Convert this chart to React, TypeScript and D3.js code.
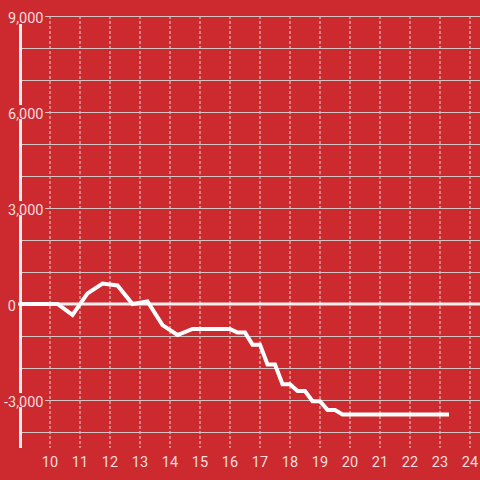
import React from "react";
import * as d3 from "d3";

const W = 480;
const H = 480;
const BG = "#cc2a2f";

const hours = [9, 10.25, 10.75, 11.25, 11.75, 12.25, 12.75, 13.25, 13.75, 14.25, 14.75, 16.0, 16.25, 16.5, 16.75, 17.0, 17.25, 17.5, 17.75, 18.0, 18.25, 18.5, 18.75, 19.0, 19.25, 19.5, 19.75, 23.3];
const values = [0, 0, -340, 330, 640, 580, 0, 80, -660, -970, -780, -780, -890, -890, -1270, -1270, -1890, -1890, -2510, -2510, -2720, -2720, -3040, -3040, -3310, -3310, -3450, -3450];
const xTicks = [10, 11, 12, 13, 14, 15, 16, 17, 18, 19, 20, 21, 22, 23, 24];
const yLabelTicks = [9000, 6000, 3000, 0, -3000];
const yGridTicks = [9000, 8000, 7000, 6000, 5000, 4000, 3000, 2000, 1000, -1000, -2000, -3000, -4000];

export default function App() {
  const x = d3.scaleLinear().domain([9, 24.3333]).range([20, 480]);
  const y = d3.scaleLinear().domain([-4500, 9000]).range([448, 16]);
  const fmt = d3.formatLocale({ decimal: ".", thousands: ",", grouping: [3], currency: ["", ""], minus: "-" }).format(",");
  const data = hours.map((h, i) => [h, values[i]] as [number, number]);
  const line = d3
    .line<[number, number]>()
    .x((d) => x(d[0]))
    .y((d) => y(d[1]));

  const textColor = "rgba(255,255,255,0.85)";
  const font = "Roboto, 'Liberation Sans', Arial, sans-serif";

  const labelWidth = (s: string) => {
    let w = 0;
    for (const c of s) {
      if (c === ",") w += 3.8;
      else if (c === "-") w += 4.5;
      else w += 8.2;
    }
    return w;
  };

  return (
    <div style={{ position: "fixed", left: 0, top: 0 }}>
      <svg width={W} height={H} style={{ display: "block" }}>
        <rect x={0} y={0} width={W} height={H} fill={BG} />
        {xTicks.map((t) => (
          <line
            key={"vx" + t}
            x1={x(t)}
            x2={x(t)}
            y1={16}
            y2={448}
            stroke="#e6d6d6"
            strokeWidth={1}
            strokeDasharray="3,2"
          />
        ))}
        {yGridTicks.map((t) => (
          <line
            key={"hy" + t}
            x1={21}
            x2={W}
            y1={Math.round(y(t)) + 0.5}
            y2={Math.round(y(t)) + 0.5}
            stroke="#d4c4c4"
            strokeWidth={1}
          />
        ))}
        <line x1={18} x2={W} y1={y(0)} y2={y(0)} stroke="#f4eeee" strokeWidth={3} />
        <line x1={20.5} x2={20.5} y1={24} y2={448} stroke="#f4eeee" strokeWidth={3} />
        <path
          d={line(data) || ""}
          fill="none"
          stroke="#ffffff"
          strokeWidth={4}
          strokeLinejoin="miter"
        />
        {yLabelTicks.map((t) => {
          const s = fmt(t);
          const ax = t === 0 ? 16 : 43.5;
          const w = labelWidth(s);
          return (
            <g key={"yl" + t}>
              <rect x={ax - w - 1} y={y(t) - 7} width={w + 2.5} height={14} fill={BG} />
              <text
                x={ax}
                y={y(t) + 6.5}
                textAnchor="end"
                fill={textColor}
                fontSize={14.5}
                fontFamily={font}
              >
                {s}
              </text>
            </g>
          );
        })}
        {xTicks.map((t) => (
          <text
            key={"xl" + t}
            x={x(t)}
            y={466.5}
            textAnchor="middle"
            fill={textColor}
            fontSize={14.5}
            fontFamily={font}
          >
            {t}
          </text>
        ))}
      </svg>
    </div>
  );
}
